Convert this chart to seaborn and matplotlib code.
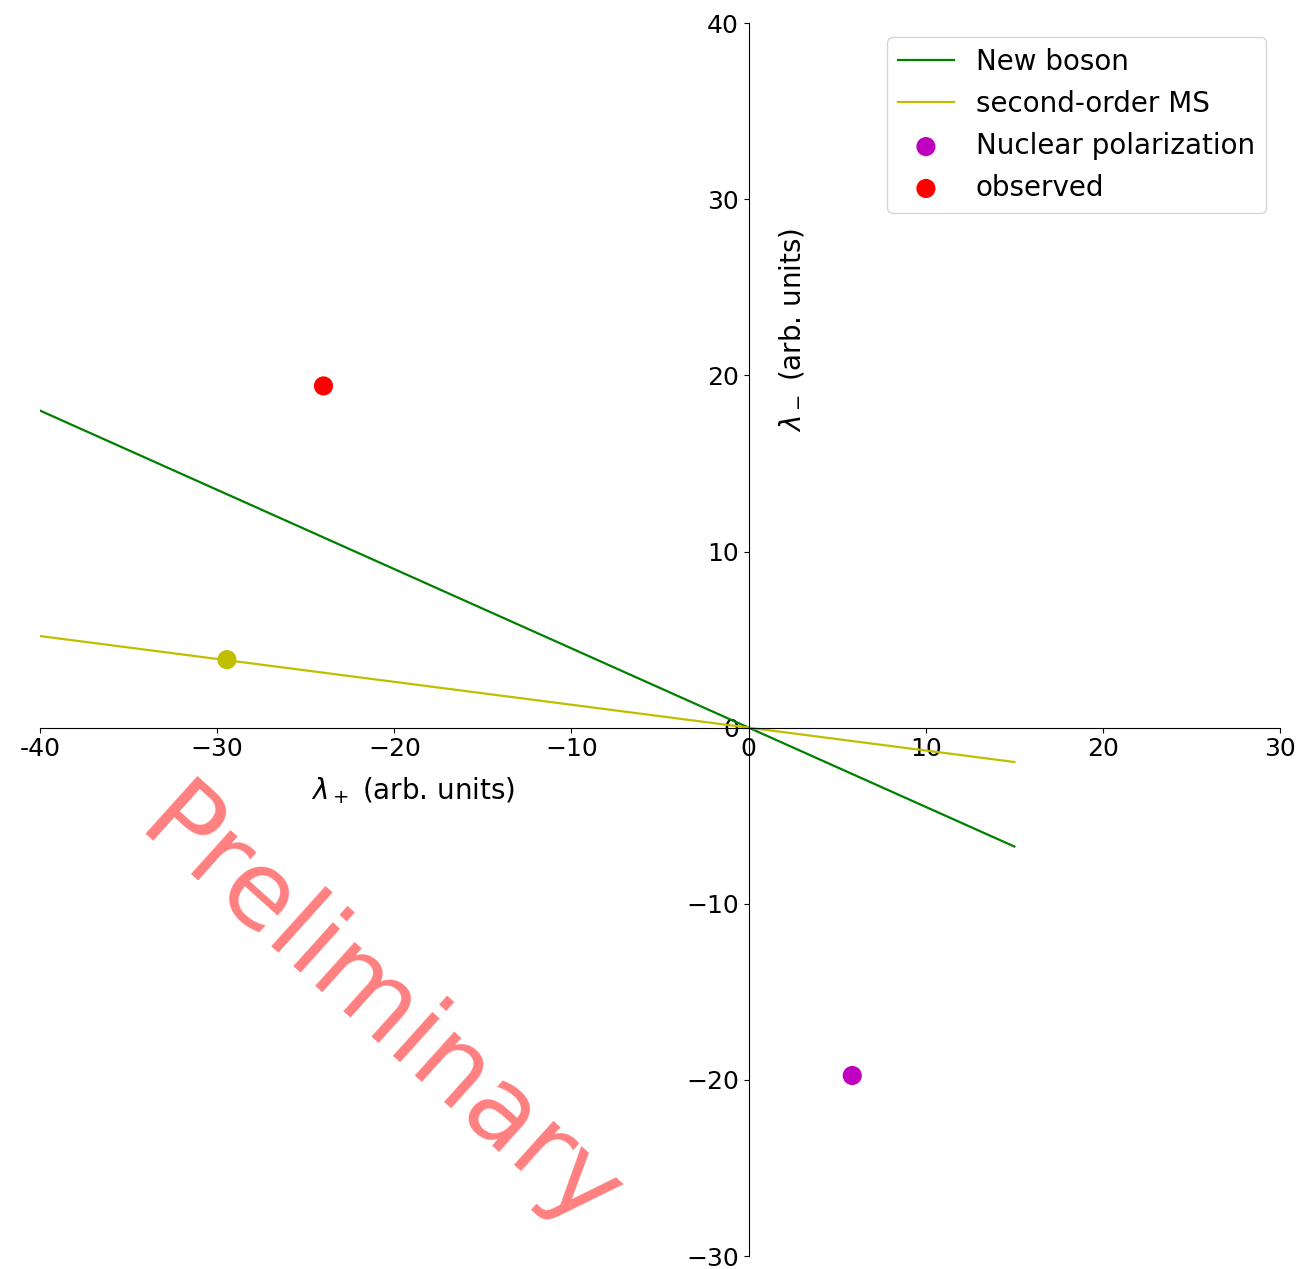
import matplotlib
matplotlib.use("Agg")
import matplotlib.pyplot as plt
import seaborn as sns

# line endpoints
boson_x = [-40, 15]
boson_y = [18.0, -6.75]
ms_x = [-40, 15]
ms_y = [5.2, -1.95]

# single points
ms_point = (-29.45, 3.86)
nuclear_point = (5.85, -19.75)
observed_point = (-24.0, 19.4)

xticks = [-40, -30, -20, -10, 0, 10, 20, 30]
xtick_labels = ["-40", "\u221230", "\u221220", "\u221210", "0", "10", "20", "30"]
yticks = [-30, -20, -10, 0, 10, 20, 30, 40]

plt.rcParams["font.size"] = 20
plt.rcParams["xtick.labelsize"] = 18
plt.rcParams["ytick.labelsize"] = 18

fig = plt.figure(figsize=(12.96, 12.69), dpi=100)
ax = fig.add_axes([0.0309, 0.0102, 0.9568, 0.9716])

sns.lineplot(x=boson_x, y=boson_y, color="g", linewidth=1.6, label="New boson", ax=ax)
sns.lineplot(x=ms_x, y=ms_y, color="y", linewidth=1.6, label="second-order MS", ax=ax)
sns.scatterplot(x=[ms_point[0]], y=[ms_point[1]], color="y", s=190, edgecolor="none", ax=ax)
sns.scatterplot(x=[nuclear_point[0]], y=[nuclear_point[1]], color="m", s=190, edgecolor="none",
                label="Nuclear polarization", ax=ax)
sns.scatterplot(x=[observed_point[0]], y=[observed_point[1]], color="r", s=190, edgecolor="none",
                label="observed", ax=ax)

ax.set_xlim(-40, 30)
ax.set_ylim(-30, 40)
ax.set_xticks(xticks)
ax.set_xticklabels(xtick_labels)
ax.set_yticks(yticks)

ax.spines["left"].set_position(("data", 0))
ax.spines["bottom"].set_position(("data", 0))
ax.spines["top"].set_visible(False)
ax.spines["right"].set_visible(False)

ax.set_xlabel(r"$\lambda_+$ (arb. units)")
ax.set_ylabel(r"$\lambda_-$ (arb. units)")
ax.xaxis.set_label_coords(0.301, 0.390)
ax.yaxis.set_label_coords(0.618, 0.751)

ax.legend(loc="upper right")

ax.text(-20.9, -16.2, "Preliminary", fontsize=77, color="red", alpha=0.5,
        rotation=-42, ha="center", va="center", rotation_mode="anchor")

fig.savefig("out.png", dpi=100)
